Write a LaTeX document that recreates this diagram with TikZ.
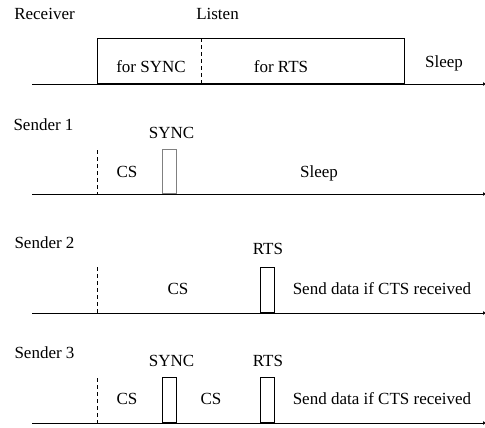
\documentclass[tikz,border=0pt]{standalone}
\usepackage{fontspec}
\setmainfont{Liberation Serif}
\usetikzlibrary{arrows.meta}
\begin{document}
\begin{tikzpicture}[x=1pt,y=-1pt,
  lbl/.style={anchor=base,inner sep=0pt,font=\fontsize{17}{20}\selectfont},
  axis/.style={line width=0.8pt,-{Latex[length=3pt,width=4pt]}},
  dashline/.style={line width=0.8pt,dash pattern=on 4pt off 3pt},
  pulse/.style={draw,line width=0.8pt,inner sep=0pt,anchor=south west,minimum width=13.5pt,minimum height=#1},
  pulse/.default=45pt
]
\useasboundingbox (0,0) rectangle (485,428);
% ---------------- Receiver
\node[lbl] (rec) at (44.5,20) {Receiver};
\node[lbl] (listen) at (217.5,20) {Listen};
\coordinate (r0) at (32,84);
\coordinate (r1) at (486,84);
\draw[axis] (r0) -- (r1);
\node[draw,line width=0.8pt,inner sep=0pt,anchor=south west,minimum width=307pt,minimum height=45.5pt] (rbox) at (97,84) {};
\coordinate (rd0) at (201,38.5);
\coordinate (rd1) at (201,84);
\draw[dashline] (rd0) -- (rd1);
\node[lbl] (fsync) at (151,73) {for SYNC};
\node[lbl] (frts) at (281,73) {for RTS};
\node[lbl] (rsleep) at (444,67) {Sleep};
% ---------------- Sender 1
\node[lbl] (s1) at (43.5,131) {Sender 1};
\coordinate (a0) at (32,194);
\coordinate (a1) at (486,194);
\draw[axis] (a0) -- (a1);
\coordinate (ad0) at (97,150);
\coordinate (ad1) at (97,194);
\draw[dashline] (ad0) -- (ad1);
\node[pulse=44pt,draw=gray] (s1sync) at (162,194) {};
\node[lbl] (s1synct) at (171.5,138) {SYNC};
\node[lbl] (s1cs) at (127,177) {CS};
\node[lbl] (s1sleep) at (319,177) {Sleep};
% ---------------- Sender 2
\node[lbl] (s2) at (44.5,248) {Sender 2};
\coordinate (b0) at (32,313);
\coordinate (b1) at (486,313);
\draw[axis] (b0) -- (b1);
\coordinate (bd0) at (97,267);
\coordinate (bd1) at (97,313);
\draw[dashline] (bd0) -- (bd1);
\node[pulse=45pt] (s2rts) at (260,313) {};
\node[lbl] (s2rtst) at (268,254) {RTS};
\node[lbl] (s2cs) at (178,294) {CS};
\node[lbl] (s2send) at (382,294) {Send data if CTS received};
% ---------------- Sender 3
\node[lbl] (s3) at (44.5,358) {Sender 3};
\coordinate (c0) at (32,423);
\coordinate (c1) at (486,423);
\draw[axis] (c0) -- (c1);
\coordinate (cd0) at (97,378);
\coordinate (cd1) at (97,423);
\draw[dashline] (cd0) -- (cd1);
\node[pulse=45pt] (s3sync) at (162,423) {};
\node[pulse=45pt] (s3rts) at (260,423) {};
\node[lbl] (s3synct) at (171.5,366) {SYNC};
\node[lbl] (s3rtst) at (268,366) {RTS};
\node[lbl] (s3cs1) at (127,404) {CS};
\node[lbl] (s3cs2) at (211,404) {CS};
\node[lbl] (s3send) at (382,404) {Send data if CTS received};
\end{tikzpicture}
\end{document}
